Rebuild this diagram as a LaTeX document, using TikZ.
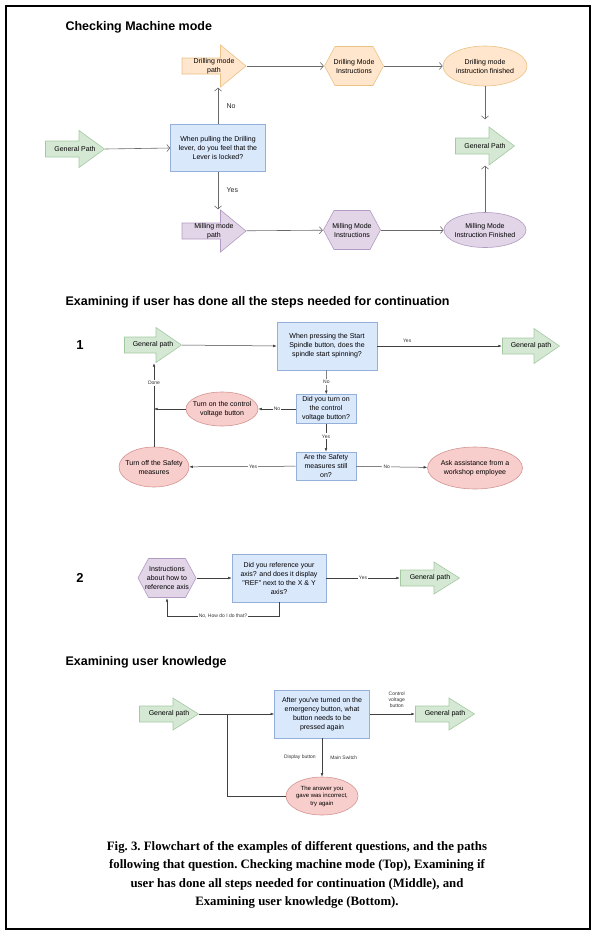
\documentclass[tikz,border=0pt]{standalone}
\usepackage{fontspec}
\newfontfamily\diafont{Liberation Sans}
\newfontfamily\capfont{Liberation Serif}
\usetikzlibrary{shapes.geometric,arrows.meta,positioning,calc}
\definecolor{grnfill}{HTML}{D5E8D4}
\definecolor{grnline}{HTML}{A3C9A1}
\definecolor{orgfill}{HTML}{FFE6CC}
\definecolor{orgline}{HTML}{EBC184}
\definecolor{purfill}{HTML}{E1D5E7}
\definecolor{purline}{HTML}{B29BC2}
\definecolor{blufill}{HTML}{DAE8FC}
\definecolor{bluline}{HTML}{94AFD9}
\definecolor{redfill}{HTML}{F8CECC}
\definecolor{redline}{HTML}{D39592}
\definecolor{wire}{HTML}{6A6A6A}
\tikzset{
  every node/.style={font=\diafont\fontsize{7pt}{9pt}\selectfont},
  heading/.style={font=\diafont\bfseries\fontsize{12.5pt}{14pt}\selectfont, anchor=west},
  partno/.style={font=\diafont\bfseries\fontsize{13pt}{15pt}\selectfont},
  qbox/.style={rectangle, draw=bluline, fill=blufill, line width=.6pt, align=center, inner sep=1pt},
  oval/.style 2 args={ellipse, draw=#2, fill=#1, line width=.6pt, align=center, inner xsep=-8pt, inner ysep=0pt},
  blkarrow/.style 2 args={rectangle, inner sep=0pt, align=center,
    path picture={\draw[draw=#2, fill=#1, line width=.6pt, line join=miter]
      ([shift={(.5pt,8pt)}]path picture bounding box.west) -- ([shift={(-26pt,8pt)}]path picture bounding box.east)
      -- ([shift={(-26pt,-.5pt)}]path picture bounding box.north east) -- ([xshift=-.5pt]path picture bounding box.east)
      -- ([shift={(-26pt,.5pt)}]path picture bounding box.south east) -- ([shift={(-26pt,-8pt)}]path picture bounding box.east)
      -- ([shift={(.5pt,-8pt)}]path picture bounding box.west) -- cycle;}},
  hexa/.style 2 args={rectangle, inner sep=0pt, align=center,
    path picture={\draw[draw=#2, fill=#1, line width=.6pt]
      ([xshift=.5pt]path picture bounding box.west) -- ([shift={(11pt,-.5pt)}]path picture bounding box.north west)
      -- ([shift={(-11pt,-.5pt)}]path picture bounding box.north east) -- ([xshift=-.5pt]path picture bounding box.east)
      -- ([shift={(-11pt,.5pt)}]path picture bounding box.south east) -- ([shift={(11pt,.5pt)}]path picture bounding box.south west)
      -- cycle;}},
  opn/.style={wire, line width=.6pt, -{Straight Barb[length=3pt,width=7pt]}},
  sld/.style={black!75, line width=.5pt, -{Latex[length=3.5pt,width=2.6pt]}},
  tag/.style={font=\diafont\fontsize{5pt}{6pt}\selectfont, text=black!80, fill=white, inner sep=1.2pt},
  tagfree/.style={font=\diafont\fontsize{5pt}{6pt}\selectfont, text=black!80, inner sep=1pt, align=center},
}
\begin{document}
\begin{tikzpicture}[x=1pt,y=-1pt]
  \useasboundingbox (0,0) rectangle (595,935);
  \draw[line width=1.5pt] (6,6) rectangle (590,929);

  % checking machine mode
  \node[heading] (t1) at (62,27) {Checking Machine mode};
  \node[blkarrow={grnfill}{grnline}, minimum width=60pt, minimum height=38pt] (gp1) at (75,149) {General Path};
  \node[qbox, minimum width=95pt, minimum height=47pt] (q1) at (218,148) {When pulling the Drilling\\lever, do you feel that the\\Lever is locked?};
  \node[blkarrow={orgfill}{orgline}, minimum width=65pt, minimum height=43pt] (dpath) at (214,66) {Drilling mode\\path};
  \node[hexa={orgfill}{orgline}, minimum width=60pt, minimum height=40pt] (dinst) at (354,66) {Drilling Mode\\Instructions};
  \node[oval={orgfill}{orgline}, minimum width=84pt, minimum height=40pt] (dend) at (485,66) {Drilling mode\\instruction finished};
  \node[blkarrow={grnfill}{grnline}, minimum width=60pt, minimum height=39pt] (gp1r) at (485,146) {General Path};
  \node[blkarrow={purfill}{purline}, minimum width=65pt, minimum height=43pt] (mpath) at (214,231) {Milling mode\\path};
  \node[hexa={purfill}{purline}, minimum width=58pt, minimum height=40pt] (minst) at (352,230) {Milling Mode\\Instructions};
  \node[oval={purfill}{purline}, minimum width=82pt, minimum height=35pt] (mend) at (485,230) {Milling Mode\\Instruction Finished};

  \draw[opn] (gp1.east) -- (q1.west);
  \draw[opn] (q1.north) -- node[right=5pt, text=black!85]{No} (q1.north |- dpath.south);
  \draw[opn] (q1.south) -- node[right=5pt, text=black!85]{Yes} (q1.south |- mpath.north);
  \draw[opn] (dpath) -- (dinst);
  \draw[opn] (dinst) -- (dend);
  \draw[opn, shorten >=7pt] (dend) -- (gp1r);
  \draw[opn] (mpath) -- (minst);
  \draw[opn] (minst) -- (mend);
  \draw[opn] (mend) -- (gp1r);

  % steps needed for continuation
  \node[heading] (t2) at (62,302) {Examining if user has done all the steps needed for continuation};
  \node[partno] (n1) at (80,345) {1};
  \node[blkarrow={grnfill}{grnline}, minimum width=58pt, minimum height=36pt] (gp2) at (153,345) {General path};
  \node[qbox, minimum width=100pt, minimum height=48pt] (spin) at (327,346) {When pressing the Start\\Spindle button, does the\\spindle start spinning?};
  \node[blkarrow={grnfill}{grnline}, minimum width=58pt, minimum height=36pt] (gp2r) at (531,346) {General path};
  \node[qbox, minimum width=60pt, minimum height=29pt] (volt) at (326,409) {Did you turn on\\the control\\voltage button?};
  \node[oval={redfill}{redline}, minimum width=72pt, minimum height=34pt] (ton) at (222,409) {Turn on the control\\voltage button};
  \node[qbox, minimum width=60pt, minimum height=28pt] (safe) at (326,466) {Are the Safety\\measures still\\on?};
  \node[oval={redfill}{redline}, minimum width=70pt, minimum height=40pt] (toff) at (154,467) {Turn off the Safety\\measures};
  \node[oval={redfill}{redline}, minimum width=95pt, minimum height=42pt] (ask) at (475,468) {Ask assistance from a\\workshop employee};
  \coordinate (done) at (toff.north |- ton);

  \draw[sld] (gp2.east) -- (spin.west);
  \draw[sld] (spin.east) -- node[tagfree, above=2pt, pos=.24]{Yes} (gp2r.west);
  \draw[sld] (spin) -- node[tag]{No} (volt);
  \draw[sld] (volt) -- node[tag]{No} (ton);
  \draw[sld] (ton) -- (done);
  \draw[sld] (volt) -- node[tag, pos=.45]{Yes} (safe);
  \draw[sld] (safe) -- node[tag, pos=.4]{Yes} (toff);
  \draw[sld] (safe) -- node[tag, pos=.43]{No} (ask);
  \draw[sld] (toff.north) -- node[tag, pos=.76]{Done} (toff.north |- gp2.south);

  \node[partno] (n2) at (80,578) {2};
  \node[hexa={purfill}{purline}, minimum width=59pt, minimum height=40pt] (howto) at (167,578) {Instructions\\about how to\\reference axis};
  \node[qbox, minimum width=94pt, minimum height=48pt] (refq) at (279,578) {Did you reference your\\axis? and does it display\\"REF" next to the X \& Y\\axis?};
  \node[blkarrow={grnfill}{grnline}, minimum width=60pt, minimum height=33pt] (gp3) at (430,578) {General path};

  \draw[sld] (howto) -- (refq);
  \draw[sld] (refq) -- node[tag]{Yes} (gp3);
  \draw[sld] (refq.south) -- ++(0,14) -| node[tag, pos=.25]{No, How do I do that?} (howto.south);

  % user knowledge
  \node[heading] (t3) at (62,662) {Examining user knowledge};
  \node[blkarrow={grnfill}{grnline}, minimum width=60pt, minimum height=33pt] (gp4) at (169,714) {General path};
  \node[qbox, minimum width=95pt, minimum height=48pt] (after) at (322,714) {After you've turned on the\\emergency button, what\\button needs to be\\pressed again};
  \node[blkarrow={grnfill}{grnline}, minimum width=60pt, minimum height=33pt] (gp5) at (445,714) {General path};
  \node[oval={redfill}{redline}, minimum width=72pt, minimum height=38pt, font=\diafont\fontsize{6pt}{7.5pt}\selectfont] (wrong) at (322,796) {The answer you\\gave was incorrect,\\try again};
  \coordinate (split) at (227,714);

  \draw[sld] (gp4.east) -- (after.west);
  \draw[sld] (after.east) -- node[tagfree, above=5pt, pos=.6]{Control\\voltage\\button} (gp5.west);
  \draw[sld] (after.south) -- node[tagfree, left=5pt]{Display button} node[tagfree, right=7pt]{Main Switch} (wrong.north);
  \draw[black!75, line width=.5pt] (wrong.west) -| (split);

  \node[font=\capfont\bfseries\fontsize{12.8pt}{18.3pt}\selectfont\frenchspacing, align=center] (cap) at (297,875)
    {Fig. 3. Flowchart of the examples of different questions, and the paths\\
     following that question. Checking machine mode (Top), Examining if\\
     user has done all steps needed for continuation (Middle), and\\
     Examining user knowledge (Bottom).};
\end{tikzpicture}
\end{document}
